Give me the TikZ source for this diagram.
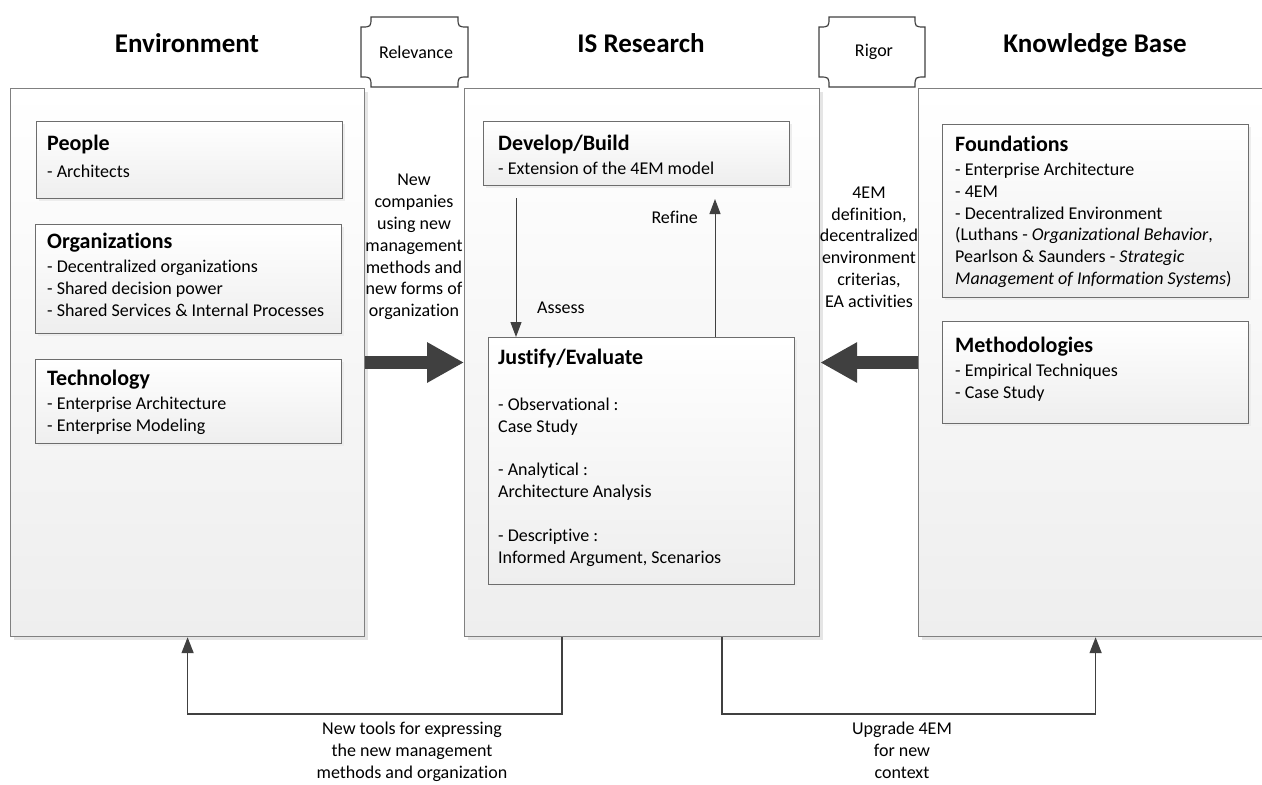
\documentclass[tikz,border=0pt]{standalone}
\usepackage{fontspec}
\setmainfont{Carlito}[Ligatures=NoCommon]
\usetikzlibrary{arrows.meta,shadows}

\definecolor{framegray}{HTML}{808080}
\definecolor{arrowgray}{HTML}{404040}
\definecolor{fillgray}{HTML}{EEEEEE}

\newcommand{\bodyfont}{\fontsize{18}{21.8}\selectfont}
\newcommand{\headfont}{\fontsize{22}{26}\selectfont\bfseries}
\newcommand{\titlefont}{\fontsize{27}{32}\selectfont\bfseries}

\tikzset{
  areabox/.style={draw=framegray, line width=1.2pt, top color=white, bottom color=fillgray,
    anchor=north west, inner sep=0pt, minimum width=354pt, minimum height=548pt,
    drop shadow={shadow xshift=3pt, shadow yshift=-3pt, fill=black!10, opacity=1}},
  itembox/.style={draw=framegray!85!black, line width=1pt, top color=white, bottom color=fillgray,
    anchor=north west, inner sep=0pt, minimum width=306pt,
    drop shadow={shadow xshift=2pt, shadow yshift=-2pt, fill=black!7, opacity=1}},
  boxtext/.style={anchor=north west, align=left, inner sep=0pt, font=\bodyfont},
  areatitle/.style={anchor=base, inner sep=0pt, font=\titlefont},
  flowlabel/.style={align=center, inner sep=0pt, font=\bodyfont},
  plaque/.style={draw=arrowgray, line width=1.2pt, fill=white},
  bigarrow/.style={arrowgray, line width=13pt, -{Triangle[length=37pt,width=38pt]}},
  thinarrow/.style={arrowgray, line width=1pt, -{Triangle[length=15pt,width=11pt]}},
  connector/.style={arrowgray, line width=1.6pt, -{Triangle[length=16pt,width=12pt]}}
}

\begin{document}
\begin{tikzpicture}[x=1pt,y=1pt]
\clip (0,0) rectangle (1262,-785);

% Three main areas
\node[areabox] (env) at (10,-88) {};
\node[areabox, minimum width=355pt] (isr) at (464,-88) {};
\node[areabox] (kb) at (918,-88) {};
\node[areatitle] (envtitle) at (187,-52) {Environment};
\node[areatitle] (isrtitle) at (641,-52) {IS Research};
\node[areatitle] (kbtitle) at (1095,-52) {Knowledge Base};

% Relevance and rigor plaques
\draw[plaque] (371,-17) -- (458,-17) .. controls (458,-27) .. (468,-27) -- (468,-77)
  .. controls (458,-77) .. (458,-87) -- (371,-87) .. controls (371,-77) .. (361,-77)
  -- (361,-27) .. controls (371,-27) .. cycle;
\node[flowlabel] (relevance) at (416,-52) {Relevance};
\draw[plaque] (829,-17) -- (915,-17) .. controls (915,-27) .. (925,-27) -- (925,-77)
  .. controls (915,-77) .. (915,-87) -- (829,-87) .. controls (829,-77) .. (819,-77)
  -- (819,-27) .. controls (829,-27) .. cycle;
\node[flowlabel] (rigor) at (874,-52) {Rigor};

% Environment boxes
\node[itembox, minimum height=77pt] (people) at (36,-121) {};
\node[boxtext] (peopletext) at (47,-135) {{\headfont People}\\[5pt]- Architects};
\node[itembox, minimum height=109pt] (orgs) at (35,-224) {};
\node[boxtext] (orgstext) at (47,-233) {{\headfont Organizations}\\[2pt]- Decentralized organizations\\- Shared decision power\\- Shared Services \& Internal Processes};
\node[itembox, minimum height=84pt] (tech) at (35,-359) {};
\node[boxtext] (techtext) at (47,-370) {{\headfont Technology}\\[2pt]- Enterprise Architecture\\- Enterprise Modeling};

% IS Research boxes
\node[itembox, minimum height=64pt] (develop) at (483,-121) {};
\node[boxtext] (developtext) at (498,-135) {{\headfont Develop/Build}\\[2pt]- Extension of the 4EM model};
\node[itembox, minimum height=247pt] (justify) at (488,-337) {};
\node[boxtext] (justifytext) at (498,-349) {{\headfont Justify/Evaluate}\\[24pt]- Observational :\\Case Study\\[21.8pt]- Analytical :\\Architecture Analysis\\[21.8pt]- Descriptive :\\Informed Argument, Scenarios};

% Knowledge base boxes
\node[itembox, minimum height=173pt] (found) at (942,-124) {};
\node[boxtext] (foundtext) at (955,-136) {{\headfont Foundations}\\[2pt]- Enterprise Architecture\\- 4EM\\- Decentralized Environment\\(Luthans - \textit{Organizational Behavior},\\Pearlson \& Saunders - \textit{Strategic}\\\textit{Management of Information Systems})};
\node[itembox, minimum height=102pt] (methods) at (942,-321) {};
\node[boxtext] (methodstext) at (955,-337) {{\headfont Methodologies}\\[2pt]- Empirical Techniques\\- Case Study};

% Assess and refine loop
\coordinate (assesstop) at (516,-198);
\draw[thinarrow] (assesstop) -- (assesstop |- justify.north);
\node[flowlabel, anchor=west] (assess) at (537,-308) {Assess};
\coordinate (refinetop) at (715,-199);
\draw[thinarrow] (refinetop |- justify.north) -- (refinetop);
\node[flowlabel, anchor=east] (refine) at (698,-217) {Refine};

% Big arrows into IS Research
\coordinate (midline) at (0,-362.5);
\draw[bigarrow] (env.east |- midline) -- (isr.west |- midline);
\draw[bigarrow] (kb.west |- midline) -- (isr.east |- midline);
\node[flowlabel] (newcomp) at (414,-247) {New\\companies\\using new\\management\\methods and\\new forms of\\organization};
\node[flowlabel] (definition) at (869,-247) {4EM\\definition,\\decentralized\\environment\\criterias,\\EA activities};

% Feedback connectors below
\draw[connector] ([xshift=-80pt]isr.south) -- ++(0,-77) -| (env.south);
\draw[connector] ([xshift=80pt]isr.south) -- ++(0,-77) -| (kb.south);
\node[flowlabel, anchor=north] (newtools) at (412,-722) {New tools for expressing\\the new management\\methods and organization};
\node[flowlabel, anchor=north] (upgrade) at (902,-722) {Upgrade 4EM\\for new\\context};
\end{tikzpicture}
\end{document}
